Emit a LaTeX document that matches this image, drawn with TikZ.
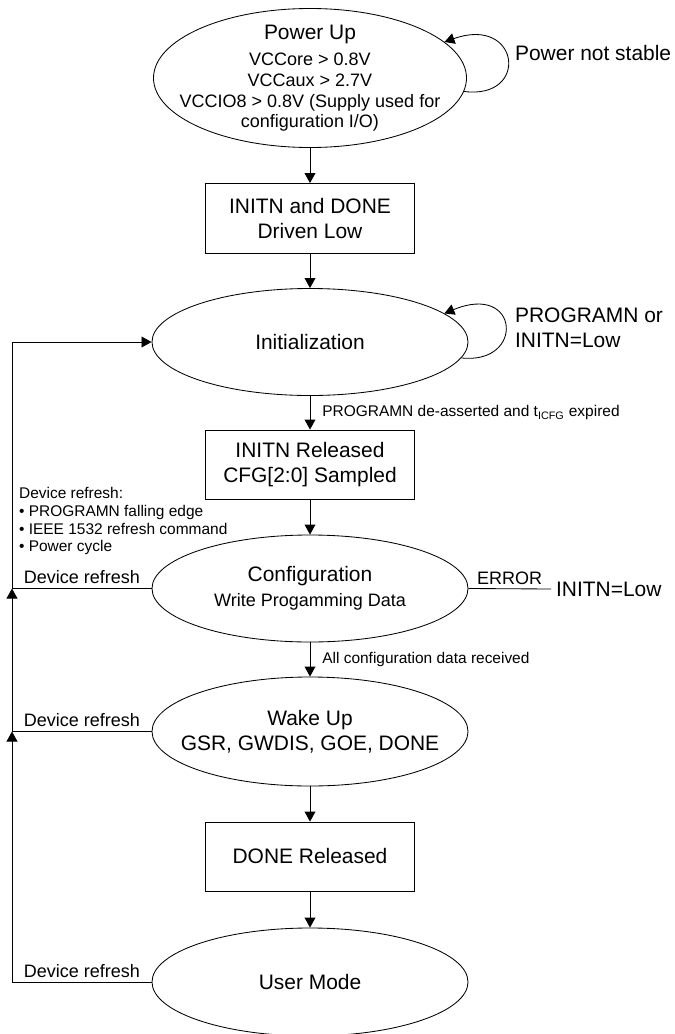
\documentclass[tikz,border=0pt]{standalone}
\usepackage{fontspec}
\setmainfont{Liberation Sans}
\usetikzlibrary{shapes.geometric, arrows.meta}
\tikzset{>={Triangle[length=2.5mm,width=2.7mm]}}

\newcommand{\bigf}{\fontsize{14.9}{17.8}\selectfont}
\newcommand{\midf}{\fontsize{12.8}{14.6}\selectfont}
\newcommand{\smallf}{\fontsize{11}{12.8}\selectfont}

\begin{document}
\begin{tikzpicture}[x=0.25mm, y=-0.25mm, line width=0.6pt,
  state/.style={ellipse, draw, minimum width=79mm, minimum height=26.75mm,
    inner sep=-6mm, align=center, font=\bigf},
  stepbox/.style={rectangle, draw, minimum width=52.25mm, minimum height=17.5mm,
    align=center, font=\bigf},
  cond/.style={font=\smallf, anchor=west},
  edgelabel/.style={font=\midf, above, inner sep=1mm}]
\useasboundingbox (0,0) rectangle (674,1034);

\node[state, font=\midf, minimum width=78.25mm, minimum height=34.75mm] (pwr) at (310,78)
  {{\bigf Power Up}\\[4.5pt] VCCore > 0.8V\\ VCCaux > 2.7V\\
   VCCIO8 > 0.8V (Supply used for\\ configuration I/O)};
\draw[->] (pwr.-5) .. controls (530,100) and (520,15) .. (pwr.15);
\node[font=\bigf, anchor=west] (unstable) at (510,53) {Power not stable};

\node[stepbox] (drv) at (310,218.5) {INITN and DONE\\Driven Low};
\draw[->] (pwr.south) -- (drv.north);

\node[state] (init) at (310,342) {Initialization};
\draw[->] (drv.south) -- (init.north);
\draw[->] (init.-6) .. controls (525,365) and (520,282) .. (init.12);
\node[font=\bigf, anchor=west, align=left] (lowinit) at (510,327.5) {PROGRAMN or\\INITN=Low};

\node[stepbox, minimum height=17.25mm] (smp) at (310,464.5) {INITN Released\\CFG[2:0] Sampled};
\draw[->] (init.south) -- node[cond, right, xshift=1.8mm]
  {PROGRAMN de-asserted and t\textsubscript{ICFG} expired} (smp.north);

\node[state] (cfg) at (310,588.5) {Configuration\\{\midf Write Progamming Data}};
\draw[->] (smp.south) -- (cfg.north);
\node[font=\bigf, anchor=west] (errlow) at (551,589) {INITN=Low};
\draw (cfg.east) -- node[edgelabel]{ERROR} (errlow.west);

\node[state, minimum height=27.25mm] (wake) at (310,731.5) {Wake Up\\GSR, GWDIS, GOE, DONE};
\draw[->] (cfg.south) -- node[cond, right, xshift=1.8mm]
  {All configuration data received} (wake.north);

\node[stepbox, minimum height=17.25mm] (rel) at (310,856.5) {DONE Released};
\draw[->] (wake.south) -- (rel.north);

\node[state, minimum height=27mm] (user) at (310,982) {User Mode};
\draw[->] (rel.south) -- (user.north);

% device refresh, back to initialization
\coordinate (rail) at (12,0);
\node[cond, align=left] (triggers) at (14,521)
  {Device refresh:\\• PROGRAMN falling edge\\• IEEE 1532 refresh command\\• Power cycle};
\draw[->] (user.west) -- node[edgelabel]{Device refresh} (user.west -| rail) -- (wake.west -| rail);
\draw[->] (wake.west) -- node[edgelabel]{Device refresh} (wake.west -| rail) -- (cfg.west -| rail);
\draw[->] (cfg.west) -- node[edgelabel]{Device refresh} (cfg.west -| rail) |- (init.west);
\end{tikzpicture}
\end{document}
